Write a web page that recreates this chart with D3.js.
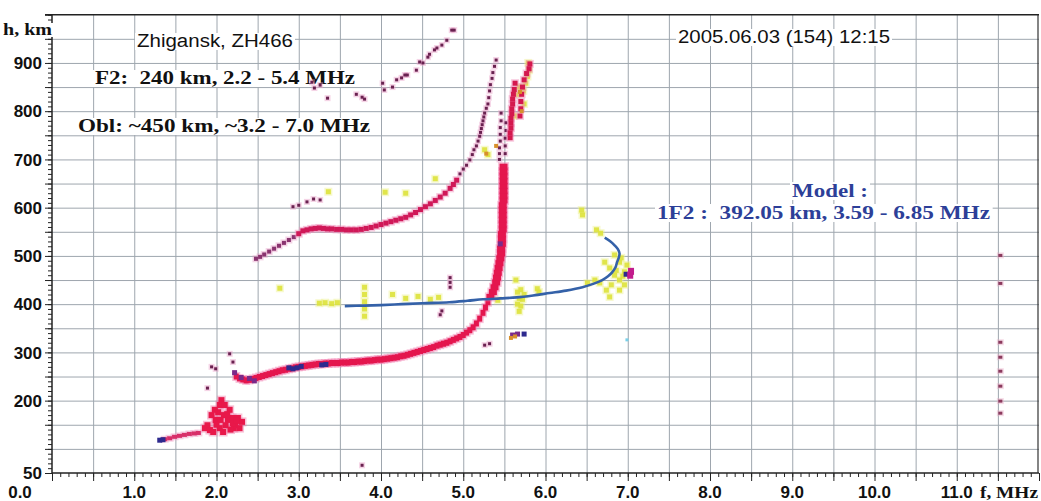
<!DOCTYPE html>
<html>
<head>
<meta charset="utf-8">
<script src="https://cdn.jsdelivr.net/npm/d3@7"></script>
<style>
  body { margin: 0; background: #fff; }
  svg { display: block; }
</style>
</head>
<body>
<div id="chart"></div>
<script>
// axis values
const xTickValues = [0, 1, 2, 3, 4, 5, 6, 7, 8, 9, 10, 11];
const xTickLabels = ["0.0", "1.0", "2.0", "3.0", "4.0", "5.0", "6.0", "7.0", "8.0", "9.0", "10.0", "11.0"];
const yTickValues = [50, 200, 300, 400, 500, 600, 700, 800, 900];

// traces, [f MHz, h km]
const lowTrace = [[1.37,120],[1.43,122],[1.49,125],[1.55,127],[1.61,129],[1.67,131],[1.73,132],[1.78,133]];
const lowCluster = [[1.86,143],[1.89,149],[1.92,139],[1.96,135],[1.99,160],[2.02,176],[2.04,191],[2.06,201],
  [2.09,170],[2.11,149],[2.14,160],[2.16,181],[2.19,164],[2.21,143],[2.23,149],[2.26,164],[2.28,143],[2.31,156],
  [2.04,143],[1.98,181],[2.10,191],[1.94,170],[2.05,160],[2.13,172],[2.20,153],[2.08,135],[2.17,140],[2.24,158],[2.00,150]];

const f2Lower = [[2.24,250],[2.28,246],[2.32,244],[2.36,242],[2.40,243],[2.44,245],[2.48,247],[2.52,249],[2.56,251],
  [2.60,253],[2.64,255],[2.68,257],[2.72,259],[2.76,261],[2.80,263],[2.84,264],[2.88,266],[2.92,267],[2.96,269],
  [3.00,270],[3.04,271],[3.08,272],[3.12,273],[3.16,274],[3.20,275],[3.24,276],[3.28,276],[3.32,277],[3.36,277],
  [3.40,278],[3.44,278],[3.48,278],[3.52,279],[3.56,279],[3.60,279],[3.64,280],[3.68,280],[3.72,281],[3.76,281],
  [3.80,282],[3.84,283],[3.88,283],[3.92,284],[3.96,285],[4.00,285],[4.04,286],[4.08,287],[4.12,288],[4.16,289],
  [4.20,290],[4.24,292],[4.28,293],[4.32,295],[4.36,297],[4.40,299],[4.44,301],[4.48,303],[4.52,305],[4.56,307],
  [4.60,309],[4.64,311],[4.68,314],[4.72,316],[4.76,318],[4.80,320],[4.84,323],[4.88,326],[4.92,329],[4.96,332],
  [5.00,336],[5.04,341],[5.08,346],[5.12,352],[5.16,360],[5.20,370],[5.24,382],[5.27,393],[5.30,404]];
const f2Vertical = [[5.33,415],[5.36,425],[5.38,435],[5.40,445],[5.41,455],[5.42,465],[5.43,475],[5.44,485],
  [5.45,495],[5.46,505],[5.46,515],[5.47,525],[5.47,535],[5.47,545],[5.48,555],[5.48,565],[5.48,575],[5.48,585],
  [5.48,595],[5.48,605],[5.49,615],[5.49,625],[5.49,635],[5.49,645],[5.49,655],[5.49,665],[5.49,675],[5.49,685]];
const secondBranch = [[5.57,745],[5.57,755],[5.58,765],[5.58,775],[5.58,785],[5.59,795],[5.59,805],[5.60,815],
  [5.60,825],[5.61,835],[5.62,845],[5.63,858],[5.69,790],[5.70,805],[5.70,820],[5.71,835],[5.72,850],[5.74,865],
  [5.77,878],[5.80,888],[5.81,898]];

const obliqueStart = [[2.48,494],[2.53,498],[2.58,503],[2.64,509],[2.70,515],[2.76,521],[2.82,527],[2.88,533],[2.94,539]];
const oblique = [[3.00,546],[3.05,552],[3.10,554],[3.15,556],[3.20,557],[3.25,558],[3.30,557],[3.35,556],[3.40,556],
  [3.46,555],[3.52,555],[3.58,554],[3.64,554],[3.70,554],[3.76,555],[3.82,557],[3.88,559],[3.94,562],[4.00,565],
  [4.06,568],[4.12,571],[4.18,574],[4.24,577],[4.30,580],[4.36,585],[4.42,590],[4.48,596],[4.54,602],[4.60,608],
  [4.66,615],[4.72,622],[4.78,630],[4.84,640],[4.88,648],[4.92,657]];

const sparseDots = [[3.16,860],[3.19,848],[3.26,854],[3.35,827],[3.70,835],[3.77,829],[3.80,825],[4.02,858],[4.04,844],
  [4.14,850],[4.19,865],[4.25,869],[4.29,875],[4.32,875],[4.43,885],[4.47,902],[4.51,900],[4.57,912],[4.59,918],
  [4.65,927],[4.68,931],[4.74,937],[4.80,947],[4.86,968],[4.89,968],
  [4.96,670],[5.00,680],[5.04,688],[5.08,699],[5.11,710],[5.13,720],[5.16,728],[5.18,738],[5.20,748],[5.21,756],
  [5.22,764],[5.23,772],[5.24,780],[5.25,788],[5.26,796],[5.28,806],[5.30,815],[5.31,828],[5.32,842],[5.33,855],
  [5.35,868],[5.36,880],[5.38,893],[5.40,906],
  [5.44,700],[5.44,712],[5.44,724],[5.45,738],[5.45,752],[5.45,766],[5.46,780],[5.46,796],[5.51,712],[5.51,728],
  [5.51,744],[5.52,760],[5.52,776],
  [4.84,435],[4.84,445],[4.84,455],[4.72,378],[4.74,386],[5.26,315],[5.32,318],[2.93,602],[3.00,605],[3.10,612],
  [3.18,618],[3.26,616],[1.89,226],[1.94,270],[1.99,266],[2.16,297],[2.20,280],[3.77,66]];

const yellowPts = [[6.72,487],[6.78,475],[6.84,460],[6.90,450],[6.96,467],[6.99,481],[6.90,487],[6.80,440],[6.74,429],
  [6.78,415],[6.66,444],[6.60,450],[6.51,444],[6.90,429],[6.96,440],[6.84,502],[6.92,496],[6.62,554],[6.67,547],
  [6.44,595],[6.45,585],[6.86,470],[6.94,458],
  [5.66,425],[5.70,430],[5.74,420],[5.68,412],[5.72,410],[5.66,400],[5.70,396],[5.68,385],[5.90,432],[5.92,425],
  [5.42,408],[5.64,450],
  [3.25,402],[3.32,403],[3.40,401],[3.47,403],[3.80,435],[3.80,420],[3.80,405],[3.80,390],[3.80,375],[4.14,420],
  [4.30,412],[4.45,416],[4.60,410],[4.70,414],[2.77,433],
  [4.66,660],[3.36,633],[4.05,632],[4.30,630],[5.26,720],[5.30,710],[5.66,835],[5.68,850],[5.73,842],[5.76,858],
  [5.78,872],[5.80,885],[5.79,900],[5.74,815],[5.62,790]];

const darkBluePts = [[2.88,268],[2.93,266],[2.98,268],[3.03,271],[3.28,274],[3.33,275],[5.74,338],[1.31,118],[1.35,119],[6.98,462]];
const purplePts = [[5.45,525],[2.22,258],[2.30,248],[2.40,246],[2.46,241],[5.60,336],[5.66,338]];
const orangePts = [[5.58,330],[5.63,333],[5.40,728],[5.28,712],[5.69,840],[5.71,800]];
const magentaPts = [[7.03,460],[7.04,468]];
const cyanPts = [[6.99,326]];
const rightDots = [[11.53,501],[11.53,443],[11.53,321],[11.53,290],[11.53,261],[11.53,230],[11.53,199],[11.53,174]];

// model 1F2 curve
const modelCurve = [[3.56,396],[3.80,397],[4.00,398],[4.25,400],[4.50,402],[4.83,404],[5.05,407],[5.24,410],
  [5.45,412],[5.65,414],[5.85,418],[6.05,423],[6.25,428],[6.45,435],[6.58,442],[6.69,450],[6.76,458],[6.81,466],
  [6.85,476],[6.87,487],[6.89,496],[6.90,505],[6.88,514],[6.84,522],[6.79,530],[6.72,538]];

const W = 1041, H = 501;
const svg = d3.select('#chart').append('svg').attr('width', W).attr('height', H);

const x = d3.scaleLinear().domain([0, 12]).range([52, 1039]);
const y = d3.scaleLinear().domain([50, 1000]).range([473, 14.7]);

const gridColor = '#9ea6ae';
const sans = '"Liberation Sans", Arial, sans-serif';
const serif = '"Liberation Serif", "Times New Roman", serif';

// grid
svg.append('g')
  .attr('transform', `translate(0,${y(50)})`)
  .call(d3.axisBottom(x).tickValues(d3.range(0.5, 12, 0.5)).tickSize(-(y(50) - y(1000))).tickFormat(''))
  .call(g => g.select('.domain').remove())
  .selectAll('line').attr('stroke', gridColor);
svg.append('g')
  .attr('transform', `translate(${x(0)},0)`)
  .call(d3.axisLeft(y).tickValues(d3.range(100, 1000, 50)).tickSize(-(x(12) - x(0))).tickFormat(''))
  .call(g => g.select('.domain').remove())
  .selectAll('line').attr('stroke', gridColor);

// ticks x
svg.append('g')
  .attr('transform', `translate(0,${y(50)})`)
  .call(d3.axisBottom(x).tickValues(d3.range(0, 12.001, 0.1)).tickSize(4).tickFormat(''))
  .call(g => g.select('.domain').remove())
  .selectAll('line').attr('stroke', '#222');
svg.append('g')
  .attr('transform', `translate(0,${y(50)})`)
  .call(d3.axisBottom(x).tickValues(d3.range(0, 12.001, 0.5)).tickSize(8).tickFormat(''))
  .call(g => g.select('.domain').remove())
  .selectAll('line').attr('stroke', '#222');

// ticks y
svg.append('g')
  .attr('transform', `translate(${x(0)},0)`)
  .call(d3.axisLeft(y).tickValues(d3.range(50, 1000.1, 10)).tickSize(4).tickFormat(''))
  .call(g => g.select('.domain').remove())
  .selectAll('line').attr('stroke', '#222');
svg.append('g')
  .attr('transform', `translate(${x(0)},0)`)
  .call(d3.axisLeft(y).tickValues(d3.range(50, 1000.1, 50)).tickSize(7).tickFormat(''))
  .call(g => g.select('.domain').remove())
  .selectAll('line').attr('stroke', '#222');

// frame
svg.append('line').attr('x1', x(0)).attr('x2', x(12)).attr('y1', y(50)).attr('y2', y(50)).attr('stroke', '#222').attr('stroke-width', 1.5);
svg.append('line').attr('x1', x(0)).attr('x2', x(0)).attr('y1', y(50)).attr('y2', y(1000)).attr('stroke', '#222').attr('stroke-width', 1.5);
svg.append('line').attr('x1', x(0) - 7).attr('x2', x(12)).attr('y1', y(1000)).attr('y2', y(1000)).attr('stroke', '#222').attr('stroke-width', 1.5);
svg.append('line').attr('x1', x(12) - 1).attr('x2', x(12) - 1).attr('y1', y(50)).attr('y2', y(1000)).attr('stroke', '#333').attr('stroke-width', 1.2);

// tick labels
svg.append('g').selectAll('text')
  .data(xTickValues)
  .join('text')
  .attr('x', d => d === 0 ? x(d) - 32 : x(d))
  .attr('y', 498)
  .attr('text-anchor', 'middle')
  .attr('font-family', sans).attr('font-weight', 'bold').attr('font-size', 17)
  .attr('fill', '#111')
  .text((d, i) => xTickLabels[i]);

svg.append('g').selectAll('text')
  .data(yTickValues)
  .join('text')
  .attr('x', 42)
  .attr('y', d => y(d))
  .attr('dy', '0.36em')
  .attr('text-anchor', 'end')
  .attr('font-family', sans).attr('font-weight', 'bold').attr('font-size', 17)
  .attr('fill', '#111')
  .text(d => d);

// annotations with white boxes
function note(str, px, py, size, family, weight, color, len) {
  const g = svg.append('g');
  const t = g.append('text')
    .attr('x', px).attr('y', py)
    .attr('font-family', family).attr('font-size', size).attr('font-weight', weight)
    .attr('fill', color)
    .style('white-space', 'pre')
    .text(str);
  if (len) t.attr('textLength', len).attr('lengthAdjust', 'spacingAndGlyphs');
  const b = t.node().getBBox();
  g.insert('rect', 'text')
    .attr('x', b.x - 2).attr('y', b.y + 2)
    .attr('width', b.width + 4).attr('height', b.height - 3)
    .attr('fill', '#fff');
}

note('h, km', 3, 35, 16, serif, 'bold', '#111', 49);
note('Zhigansk, ZH466', 137, 47, 18, sans, 'normal', '#111', 156);
note('F2:  240 km, 2.2 - 5.4 MHz', 95, 84, 18, serif, 'bold', '#111', 260);
note('Obl: ~450 km, ~3.2 - 7.0 MHz', 78, 132, 18, serif, 'bold', '#111', 292);
note('2005.06.03 (154) 12:15', 678, 43, 18, sans, 'normal', '#111', 212);
note('Model :', 792, 197, 19, serif, 'bold', '#2d3f98', 76);
note('1F2 :  392.05 km, 3.59 - 6.85 MHz', 657, 219, 19, serif, 'bold', '#2d3f98', 333);
note('f, MHz', 980, 498, 17, serif, 'bold', '#111', 58);

// points
function dots(data, w, h, color, halo, opacity) {
  const g = svg.append('g');
  if (halo) {
    g.selectAll('rect.halo').data(data).join('rect').attr('class', 'halo')
      .attr('x', d => x(d[0]) - w / 2 - 1.5).attr('y', d => y(d[1]) - h / 2 - 1.5)
      .attr('width', w + 3).attr('height', h + 3)
      .attr('fill', halo).attr('opacity', 0.45);
  }
  g.selectAll('rect.dot').data(data).join('rect').attr('class', 'dot')
    .attr('x', d => x(d[0]) - w / 2).attr('y', d => y(d[1]) - h / 2)
    .attr('width', w).attr('height', h)
    .attr('fill', color).attr('opacity', opacity || 1);
}

dots(yellowPts, 5, 5, '#dde23c', '#eef290', 0.9);
dots(sparseDots, 3, 3, '#6a2150', '#e8a0c8');
dots(lowTrace, 5, 4, '#d8306a', '#f0a0c8');
dots(lowCluster, 6, 6, '#e8184a', '#f07aa8');
dots(obliqueStart, 4, 4, '#8a3470', '#e6a0c8');
dots(oblique, 5, 5, '#d01858', '#f08ab8');
dots(f2Lower, 5, 6, '#e4164e', '#f27aae');
dots(f2Vertical, 8, 6, '#e4164e', '#f27aae');
dots(secondBranch, 5, 5, '#d4184e', '#f08ab8');
dots(purplePts, 5, 5, '#7a2a8a');
dots(darkBluePts, 5, 5, '#2e2a8e');
dots(orangePts, 4, 4, '#d8902c');
dots(magentaPts, 6, 7, '#c21c8c');
dots(cyanPts, 3, 3, '#7ad0e8');
dots(rightDots, 4, 3, '#8c3a5e', '#e8b0c8');

// model curve
svg.append('path')
  .datum(modelCurve)
  .attr('fill', 'none')
  .attr('stroke', '#3461a8')
  .attr('stroke-width', 2.6)
  .attr('d', d3.line().x(d => x(d[0])).y(d => y(d[1])).curve(d3.curveCatmullRom));
</script>
</body>
</html>
